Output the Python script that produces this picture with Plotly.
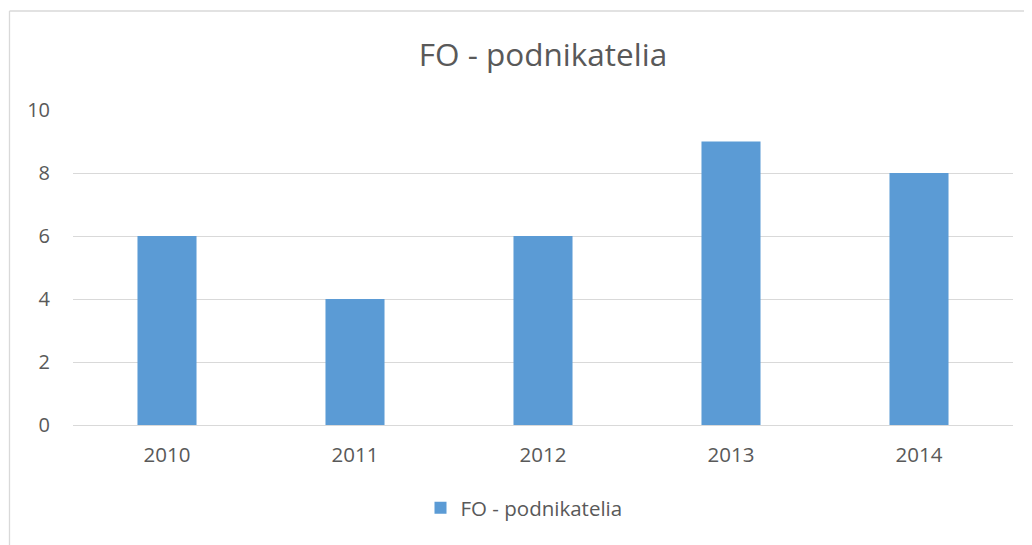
import plotly.graph_objects as go

categories = ["2010", "2011", "2012", "2013", "2014"]
values = [6, 4, 6, 9, 8]
series_name = "FO - podnikatelia"
y_ticks = [0, 2, 4, 6, 8, 10]

text_color = "#595959"
font_family = "Open Sans, Liberation Sans, sans-serif"

# The page body has an 8px margin, so figure coords = page coords - 8.
L, T, R, B = 65, 102, 27, 128
PW, PH = 1032 - L - R, 545 - T - B

fig = go.Figure()
fig.add_trace(go.Bar(
    x=categories, y=values, name=series_name,
    marker=dict(color="#5B9BD5", line=dict(width=0)),
    showlegend=True,
))

fig.update_layout(
    width=1032, height=545,
    margin=dict(l=L, r=R, t=T, b=B),
    paper_bgcolor="white", plot_bgcolor="white",
    font=dict(family=font_family, color=text_color, size=20),
    title=dict(text=series_name, x=0.5, xanchor="center", xref="paper",
               y=1 - 47 / 545, yanchor="middle", yref="container",
               font=dict(size=31.5, color=text_color, family=font_family)),
    bargap=0.686,
    showlegend=True,
    legend=dict(orientation="h", x=(516 - L) / PW, xanchor="center",
                y=(PH - (500 - T)) / PH, yanchor="middle",
                font=dict(size=20.5, color=text_color), bgcolor="rgba(0,0,0,0)"),
    xaxis=dict(type="category", showgrid=False, showline=False, zeroline=False,
               ticks="", ticklabelstandoff=15, tickfont=dict(size=20.5, color=text_color)),
    yaxis=dict(range=[0, 10], tickvals=y_ticks, showgrid=True, gridcolor="#D9D9D9",
               gridwidth=1.3, zeroline=True, zerolinecolor="#D9D9D9", zerolinewidth=1.3,
               showline=False, ticks="", ticklabelstandoff=22,
               tickfont=dict(size=20, color=text_color)),
)

# chart area border (top and left edges visible in the reference)
bx = (1.5 - L) / PW
by = (PH - (3 - T)) / PH
fig.add_shape(type="line", xref="paper", yref="paper",
              x0=bx, x1=1.2, y0=by, y1=by,
              line=dict(color="#D9D9D9", width=1.3))
fig.add_shape(type="line", xref="paper", yref="paper",
              x0=bx, x1=bx, y0=by, y1=-0.6,
              line=dict(color="#D9D9D9", width=1.3))

fig.write_html("out.html")
